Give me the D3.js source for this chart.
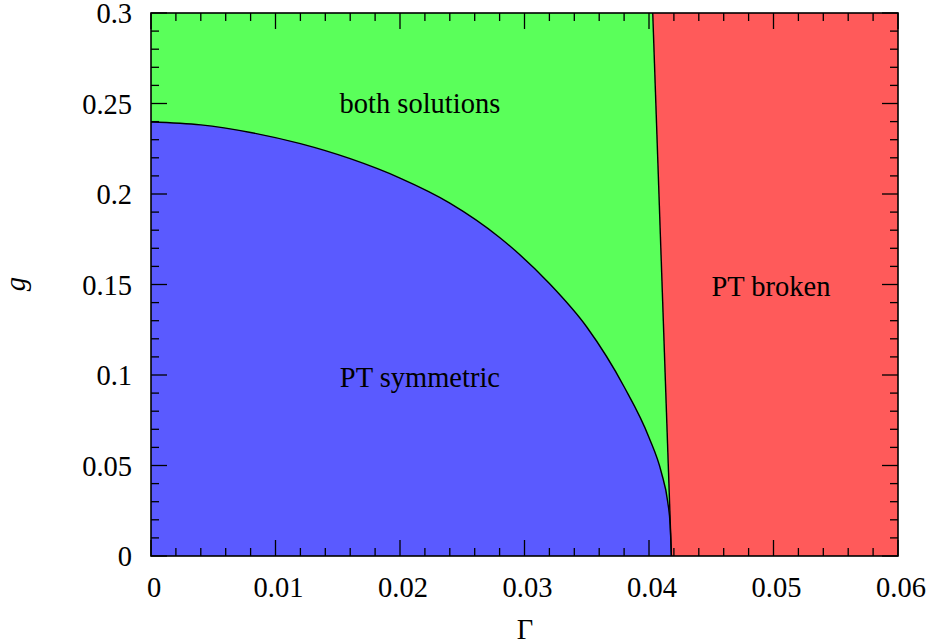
<!DOCTYPE html>
<html>
<head>
<meta charset="utf-8">
<script src="https://cdn.jsdelivr.net/npm/d3@7"></script>
<style>
  html, body { margin: 0; padding: 0; background: #fff; }
  svg { display: block; }
</style>
</head>
<body>
<svg id="chart" width="933" height="644"></svg>
<script>
// Boundary between "PT symmetric" and "both solutions"
const curveGamma = [0, 0.004, 0.008, 0.012, 0.016, 0.020, 0.024, 0.028, 0.032, 0.035, 0.038, 0.040, 0.041, 0.0415, 0.0417, 0.0418];
const curveG     = [0.2398, 0.2382, 0.2340, 0.2278, 0.2195, 0.2088, 0.1950, 0.1760, 0.1505, 0.1265, 0.0935, 0.0655, 0.0460, 0.0300, 0.0170, 0.0];
// Boundary of "PT broken" region (nearly straight line)
const lineGamma = [0.0418, 0.0403];
const lineG     = [0.0, 0.3];
// Axis ticks
const xTicks = [0, 0.01, 0.02, 0.03, 0.04, 0.05, 0.06];
const xTickLabels = ["0", "0.01", "0.02", "0.03", "0.04", "0.05", "0.06"];
const yTicks = [0, 0.05, 0.1, 0.15, 0.2, 0.25, 0.3];
const yTickLabels = ["0", "0.05", "0.1", "0.15", "0.2", "0.25", "0.3"];
// Region labels
const regionNames = ["both solutions", "PT symmetric", "PT broken"];
const regionGamma = [0.0216, 0.0216, 0.0498];
const regionG     = [0.2448, 0.0934, 0.1438];

(function () {
const FONT = "Liberation Serif";
const svg = d3.select("#chart");
const pL = 151, pR = 898, pT = 13, pB = 556;
const x = d3.scaleLinear().domain([0, 0.06]).range([pL, pR]);
const y = d3.scaleLinear().domain([0, 0.3]).range([pB, pT]);

const green = "#5aff5a", blue = "#5a5aff", red = "#ff5a5a";

const curvePts = curveGamma.map((g, i) => [g, curveG[i]]);
const linePts = lineGamma.map((g, i) => [g, lineG[i]]);
const poly = d3.line().x(d => x(d[0])).y(d => y(d[1]));
const smooth = d3.line().x(d => x(d[0])).y(d => y(d[1])).curve(d3.curveMonotoneX);

svg.append("path")
  .attr("d", poly([[0, 0], [0, 0.3], linePts[1], linePts[0]]) + "Z")
  .attr("fill", green);
svg.append("path")
  .attr("d", poly([linePts[0], linePts[1], [0.06, 0.3], [0.06, 0]]) + "Z")
  .attr("fill", red);
svg.append("path")
  .attr("d", smooth(curvePts) + "L" + x(0) + "," + y(0) + "Z")
  .attr("fill", blue);

svg.append("path")
  .attr("d", smooth(curvePts))
  .attr("fill", "none").attr("stroke", "#000").attr("stroke-width", 1.4);
svg.append("path")
  .attr("d", poly(linePts))
  .attr("fill", "none").attr("stroke", "#000").attr("stroke-width", 1.4);

const xMinor = d3.range(0, 0.0601, 0.002);
const yMinor = d3.range(0, 0.3001, 0.01);
const tickG = svg.append("g").attr("stroke", "#000").attr("stroke-width", 1.3);
xMinor.forEach(v => {
  const isMajor = xTicks.some(t => Math.abs(t - v) < 1e-9);
  const len = isMajor ? 16 : 8;
  tickG.append("line").attr("x1", x(v)).attr("x2", x(v)).attr("y1", pB).attr("y2", pB - len);
  tickG.append("line").attr("x1", x(v)).attr("x2", x(v)).attr("y1", pT).attr("y2", pT + len);
});
yMinor.forEach(v => {
  const isMajor = yTicks.some(t => Math.abs(t - v) < 1e-9);
  const len = isMajor ? 16 : 8;
  tickG.append("line").attr("y1", y(v)).attr("y2", y(v)).attr("x1", pL).attr("x2", pL + len);
  tickG.append("line").attr("y1", y(v)).attr("y2", y(v)).attr("x1", pR).attr("x2", pR - len);
});

svg.append("rect")
  .attr("x", pL).attr("y", pT).attr("width", pR - pL).attr("height", pB - pT)
  .attr("fill", "none").attr("stroke", "#000").attr("stroke-width", 1.6);

const fs = 28.5;
const txt = sel => sel.attr("font-family", FONT).attr("font-size", fs).attr("fill", "#000");
svg.append("g").selectAll("text").data(xTicks).join("text")
  .call(txt)
  .attr("x", d => x(d) + 3).attr("y", 597)
  .attr("text-anchor", "middle")
  .text((d, i) => xTickLabels[i]);
svg.append("g").selectAll("text").data(yTicks).join("text")
  .call(txt)
  .attr("x", 132).attr("y", d => y(d) + 10)
  .attr("text-anchor", "end")
  .text((d, i) => yTickLabels[i]);

svg.append("text").call(txt).attr("x", 525).attr("y", 639)
  .attr("text-anchor", "middle").text("Γ");
svg.append("text").call(txt)
  .attr("transform", "translate(25,284) rotate(-90)")
  .attr("text-anchor", "middle").attr("font-style", "italic").text("g");

svg.append("g").selectAll("text").data(regionNames).join("text")
  .call(txt)
  .attr("x", (d, i) => x(regionGamma[i])).attr("y", (d, i) => y(regionG[i]))
  .attr("text-anchor", "middle")
  .text(d => d);
})();
</script>
</body>
</html>
